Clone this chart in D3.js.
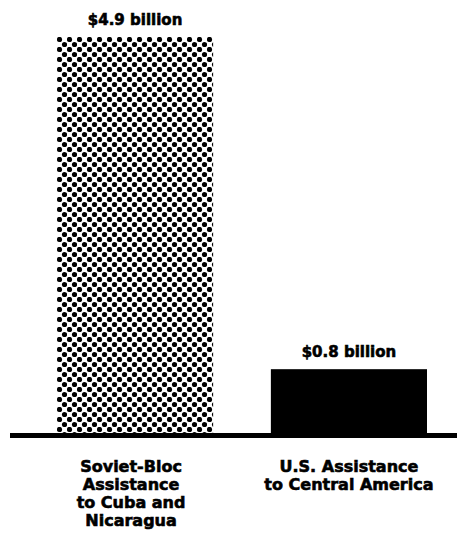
<!DOCTYPE html>
<html>
<head>
<meta charset="utf-8">
<script src="https://cdn.jsdelivr.net/npm/d3@7"></script>
<style>
html,body{margin:0;padding:0;background:#fff;}
svg{display:block;}
text{font-family:"DejaVu Sans",sans-serif;font-weight:bold;fill:#000;stroke:#000;stroke-width:0.6px;}
</style>
</head>
<body>
<script>
const categories = ["Soviet-Bloc Assistance to Cuba and Nicaragua", "U.S. Assistance to Central America"];
const categoryLines = [["Soviet-Bloc", "Assistance", "to Cuba and", "Nicaragua"], ["U.S. Assistance", "to Central America"]];
const values = [4.9, 0.8];
const valueLabels = ["$4.9 billion", "$0.8 billion"];
const fills = ["dots", "solid"];

const W = 457, H = 538;
const svg = d3.select("body").append("svg").attr("width", W).attr("height", H);

const defs = svg.append("defs");
const pat = defs.append("pattern").attr("id", "dots").attr("patternUnits", "userSpaceOnUse")
  .attr("width", 10).attr("height", 10).attr("x", 57).attr("y", 37);
pat.append("rect").attr("width", 10).attr("height", 10).attr("fill", "#fff");
pat.append("circle").attr("cx", 2.5).attr("cy", 2.5).attr("r", 2.6).attr("fill", "#000");
pat.append("circle").attr("cx", 7.5).attr("cy", 7.5).attr("r", 2.6).attr("fill", "#000");

const x = d3.scaleBand().domain(categories).range([57, 427]).paddingInner(0.27).paddingOuter(0);
const y = d3.scaleLinear().domain([0, 4.9]).range([434, 37]);

svg.selectAll("rect.bar").data(categories).enter().append("rect")
  .attr("class", "bar")
  .attr("x", d => x(d))
  .attr("width", x.bandwidth())
  .attr("y", (d, i) => y(values[i]))
  .attr("height", (d, i) => y(0) - y(values[i]))
  .attr("fill", (d, i) => fills[i] === "dots" ? "url(#dots)" : "#000");

// baseline
svg.append("rect").attr("x", 10).attr("width", W - 10).attr("y", y(0) - 1).attr("height", 5).attr("fill", "#000");

svg.selectAll("text.val").data(categories).enter().append("text")
  .attr("class", "val")
  .attr("x", d => x(d) + x.bandwidth() / 2)
  .attr("y", (d, i) => y(values[i]) - 12)
  .attr("text-anchor", "middle")
  .attr("font-size", 15)
  .text((d, i) => valueLabels[i]);

categories.forEach((c, i) => {
  const cx = x(c) + x.bandwidth() / 2 - (i === 0 ? 4 : 0);
  const t = svg.append("text")
    .attr("text-anchor", "middle")
    .attr("font-size", 16)
    .attr("x", cx)
    .attr("y", 472);
  categoryLines[i].forEach((ln, j) => {
    t.append("tspan").attr("x", cx).attr("dy", j === 0 ? 0 : 18).text(ln);
  });
});
</script>
</body>
</html>
